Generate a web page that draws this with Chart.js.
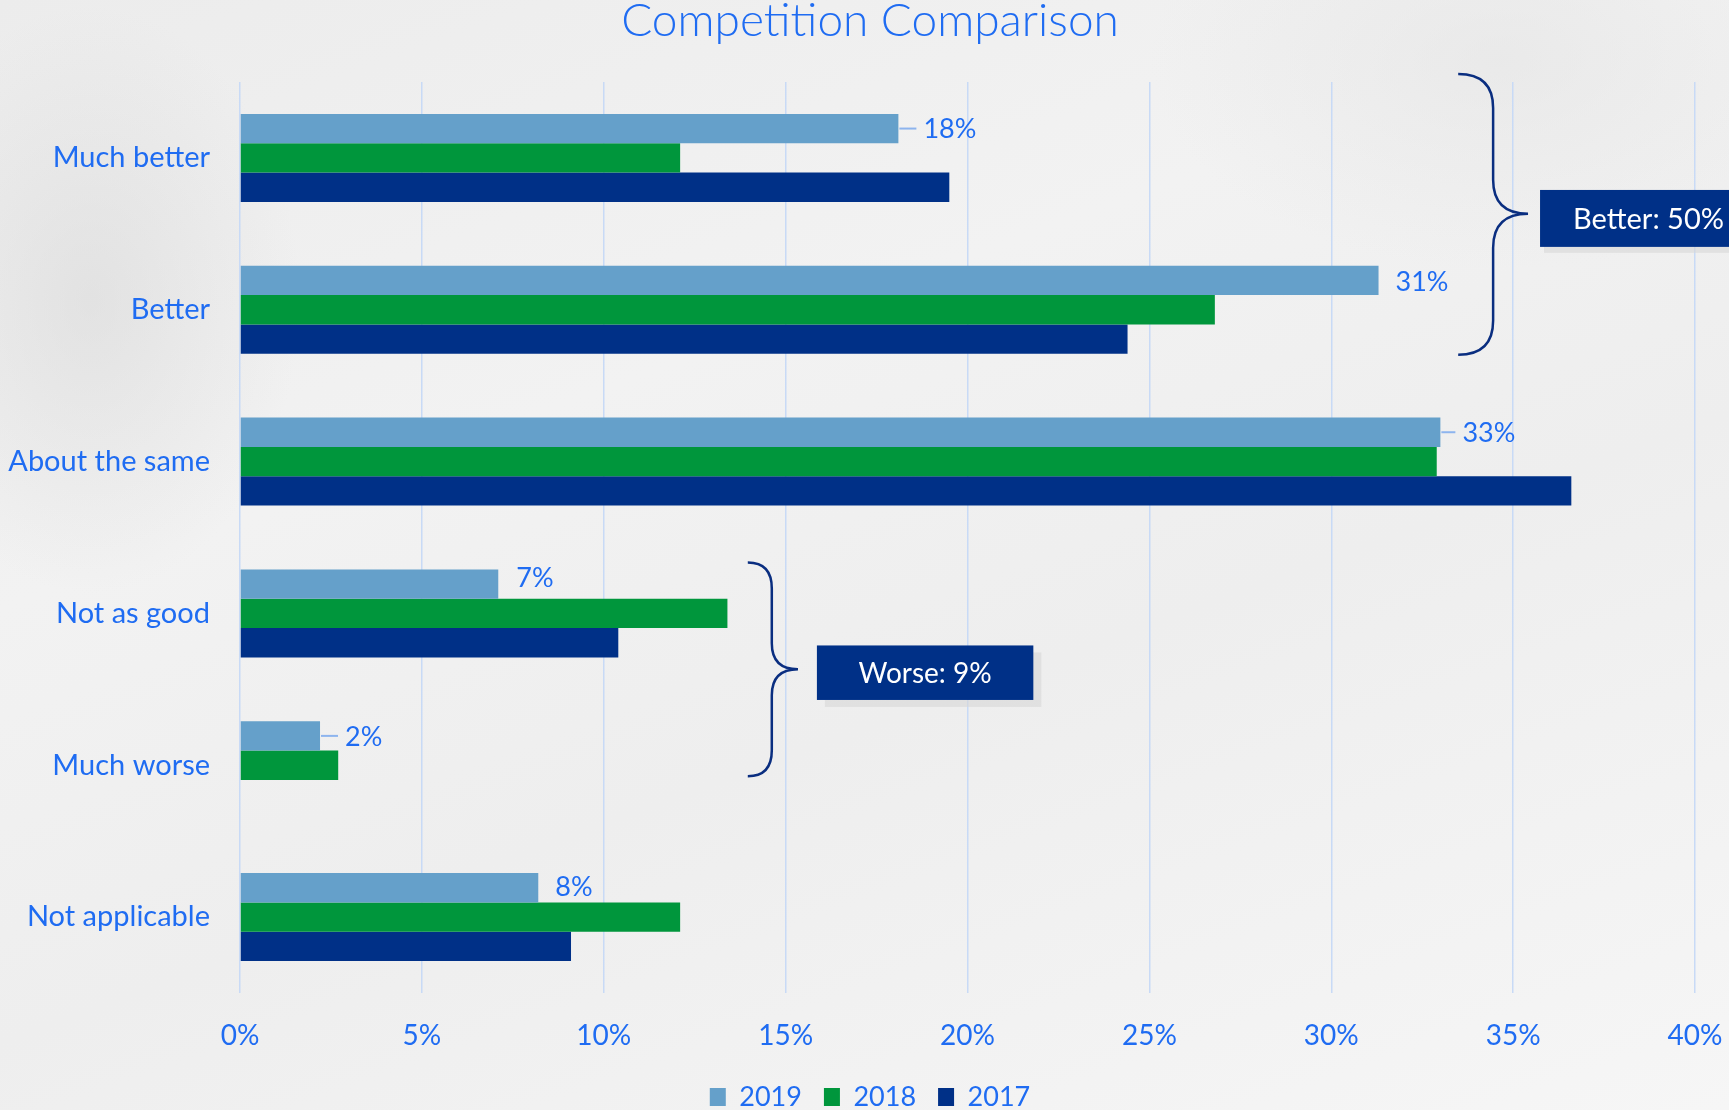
<!DOCTYPE html>
<html><head><meta charset="utf-8">
<script src="https://cdn.jsdelivr.net/npm/chart.js@4.4.1/dist/chart.umd.min.js"></script>
<style>
html,body{margin:0;padding:0;width:1729px;height:1110px;overflow:hidden;}
body{background:
  radial-gradient(ellipse 300px 420px at 90px 300px, rgba(210,210,210,0.45), rgba(210,210,210,0) 70%),
  radial-gradient(ellipse 500px 300px at 1500px 60px, rgba(225,225,225,0.5), rgba(225,225,225,0) 70%),
  linear-gradient(160deg, #ececec 0%, #f2f2f2 35%, #eeeeee 60%, #f6f6f6 100%);}
#wrap{position:relative;width:1729px;height:1110px;}
</style></head><body><div id="wrap"><canvas id="c"></canvas></div>
<script>
// ---- data ----
const categories = ['Much better', 'Better', 'About the same', 'Not as good', 'Much worse', 'Not applicable'];
const seriesNames = ['2019', '2018', '2017'];
const values2019 = [18.1, 31.3, 33.0, 7.1, 2.2, 8.2];
const values2018 = [12.1, 26.8, 32.9, 13.4, 2.7, 12.1];
const values2017 = [19.5, 24.4, 36.6, 10.4, 0, 9.1];
const xTickValues = [0, 5, 10, 15, 20, 25, 30, 35, 40];
const groupLabels = ['Better: 50%', 'Worse: 9%'];

// ---- styles ----
const TEXT = '#1F6CF2';
const FONT = 'Lato, "Open Sans", sans-serif';
const colors = ['#65A0CA', '#00963C', '#003087'];
const NAVY = '#0A2E80';
// label placement tweaks for 2019 value labels (px offsets)
const labelDx = [25, 17, 22, 18, 25, 17];
const labelDy = [1, 2, 1, -6, 1, 0];
const labelLeader = [true, false, true, false, true, false];

const annotationPlugin = {
  id: 'annot',
  afterLayout(chart) {
    // let long category labels extend into the left padding without clipping
    const y = chart.scales.y;
    y.left = 0;
  },
  afterDatasetsDraw(chart) {
    const ctx = chart.ctx;
    const meta = chart.getDatasetMeta(0);
    ctx.save();
    ctx.font = '27px ' + FONT;
    ctx.fillStyle = TEXT;
    ctx.textAlign = 'left';
    ctx.textBaseline = 'middle';
    meta.data.forEach((bar, i) => {
      const v = values2019[i];
      const x = bar.x, y = bar.y;
      if (labelLeader[i]) {
        ctx.strokeStyle = '#8DB4EE';
        ctx.lineWidth = 2;
        ctx.beginPath();
        ctx.moveTo(x + 1, y);
        ctx.lineTo(x + labelDx[i] - 7, y);
        ctx.stroke();
      }
      ctx.fillText(Math.round(v) + '%', x + labelDx[i], y + labelDy[i]);
    });
    ctx.restore();
  },
  afterDraw(chart) {
    const ctx = chart.ctx;
    const xs = chart.scales.x, ys = chart.scales.y;
    const X = v => xs.getPixelForValue(v);
    const Y = v => ys.getPixelForValue(v);
    function brace(xEnd, xMid, xTip, yTop, yTip, yBot, r) {
      ctx.beginPath();
      ctx.moveTo(xEnd, yTop);
      ctx.quadraticCurveTo(xMid, yTop, xMid, yTop + r);
      ctx.lineTo(xMid, yTip - r);
      ctx.quadraticCurveTo(xMid, yTip, xTip, yTip);
      ctx.quadraticCurveTo(xMid, yTip, xMid, yTip + r);
      ctx.lineTo(xMid, yBot - r);
      ctx.quadraticCurveTo(xMid, yBot, xEnd, yBot);
      ctx.stroke();
    }
    ctx.save();
    ctx.strokeStyle = NAVY;
    ctx.lineWidth = 2.5;
    brace(X(33.49), X(34.45), X(35.41), Y(-0.553), Y(0.368), Y(1.296), 34);
    brace(X(13.96), X(14.62), X(15.34), Y(2.664), Y(3.368), Y(4.072), 26);

    // Better box
    let bx = X(35.74), by = Y(0.211), bh = Y(0.586) - Y(0.211);
    ctx.fillStyle = 'rgba(215,215,215,0.6)';
    ctx.fillRect(bx + 4, by + 6, chart.width - bx, bh);
    ctx.fillStyle = '#003087';
    ctx.fillRect(bx, by, chart.width - bx, bh);
    ctx.fillStyle = '#FFFFFF';
    ctx.font = '29px ' + FONT;
    ctx.textAlign = 'left';
    ctx.textBaseline = 'middle';
    ctx.fillText(groupLabels[0], bx + 33, by + bh / 2 + 1);

    // Worse box
    let wx = X(15.86), wx2 = X(21.81), wy = Y(3.211), wy2 = Y(3.570);
    ctx.fillStyle = 'rgba(215,215,215,0.6)';
    ctx.fillRect(wx + 8, wy + 7, wx2 - wx, wy2 - wy);
    ctx.fillStyle = '#003087';
    ctx.fillRect(wx, wy, wx2 - wx, wy2 - wy);
    ctx.fillStyle = '#FFFFFF';
    ctx.font = '28px ' + FONT;
    ctx.textAlign = 'center';
    ctx.fillText(groupLabels[1], (wx + wx2) / 2, (wy + wy2) / 2 + 1);
    ctx.restore();
  }
};

new Chart(document.getElementById('c'), {
  type: 'bar',
  data: {
    labels: categories,
    datasets: [
      { label: seriesNames[0], data: values2019, backgroundColor: colors[0] },
      { label: seriesNames[1], data: values2018, backgroundColor: colors[1] },
      { label: seriesNames[2], data: values2017, backgroundColor: colors[2] }
    ]
  },
  options: {
    indexAxis: 'y',
    responsive: true,
    maintainAspectRatio: false,
    animation: false,
    devicePixelRatio: 1,
    categoryPercentage: 0.58,
    barPercentage: 1.0,
    layout: { padding: { left: 30, right: 19, top: 0, bottom: -10.5 } },
    scales: {
      x: {
        min: 0, max: 40,
        afterBuildTicks(scale) { scale.ticks = xTickValues.map(v => ({ value: v })); },
        afterFit(scale) { scale.height = 68.5; scale.paddingRight = 34; scale.paddingLeft = 0; },
        grid: { color: '#C8DAF6', lineWidth: 1.5, drawTicks: false },
        border: { display: false },
        ticks: { color: TEXT, font: { family: FONT, size: 28 }, padding: 26, callback: v => v + '%' }
      },
      y: {
        afterFit(scale) { scale.width = 210; },
        grid: { display: false, drawTicks: false },
        border: { display: false },
        ticks: { color: TEXT, font: { family: FONT, size: 29 }, padding: 30 }
      }
    },
    plugins: {
      title: {
        display: true, text: 'Competition Comparison', color: TEXT,
        font: { family: FONT, size: 46, weight: '300', lineHeight: 0.9 },
        padding: { top: 0, bottom: 40.6 }
      },
      legend: {
        position: 'bottom',
        labels: { color: TEXT, font: { family: FONT, size: 27 }, boxWidth: 16, boxHeight: 18, padding: 22 }
      },
      tooltip: { enabled: false }
    }
  },
  plugins: [annotationPlugin]
});
</script>
</body></html>
